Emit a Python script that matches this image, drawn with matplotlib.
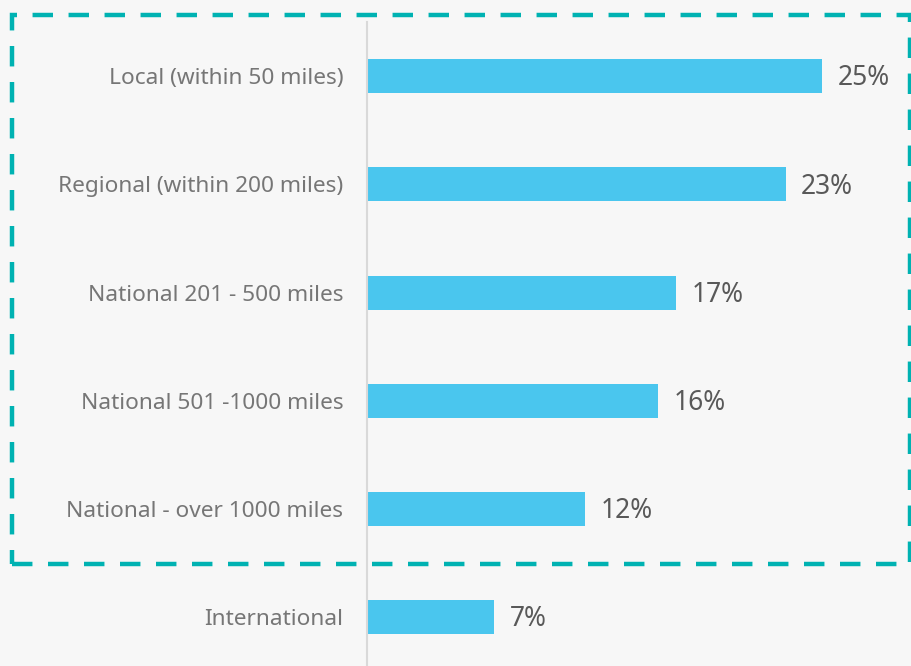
import matplotlib.pyplot as plt
from matplotlib.patches import Rectangle

categories = ["Local (within 50 miles)", "Regional (within 200 miles)",
              "National 201 - 500 miles", "National 501 -1000 miles",
              "National - over 1000 miles", "International"]
values = [25, 23, 17, 16, 12, 7]

bg = "#f7f7f7"
plt.rcParams['font.family'] = ['Noto Sans', 'DejaVu Sans']

fig = plt.figure(figsize=(9.12, 6.66), dpi=100, facecolor=bg)
W, H = 912, 666
# axes from the vertical axis line to the right edge
ax = fig.add_axes([367 / W, 0, 1 - 367 / W, 1 - 22 / H], facecolor=bg)

ypos = list(range(len(categories)))
ax.barh(ypos, values, height=0.315, color="#4ac6ee")
ax.set_xlim(0, (W - 367) / 18.2)
ax.set_ylim(5.45, -0.5)

for y, v in zip(ypos, values):
    ax.text(v + 0.85, y + 0.02, f"{v}%", va="center", ha="left", fontsize=19, color="#595959")

ax.set_yticks(ypos)
ax.set_yticklabels(categories, fontsize=16.3, color="#767676")
ax.tick_params(axis="y", length=0, pad=17)
ax.set_xticks([])
for s in ["top", "right", "bottom"]:
    ax.spines[s].set_visible(False)
ax.spines["left"].set_color("#d9d9d9")
ax.spines["left"].set_linewidth(1.5)

# dashed highlight box around the domestic categories
x0, y0, x1, y1 = 12.5, 14.5, 910, 564
box = Rectangle((x0 / W, 1 - y1 / H), (x1 - x0) / W, (y1 - y0) / H,
                transform=fig.transFigure, fill=False, edgecolor="#00b2b2",
                linewidth=3.2, linestyle=(0, (4.6, 3.5)), clip_on=False)
fig.patches.append(box)

plt.savefig("out.png", dpi=100, facecolor=bg)
